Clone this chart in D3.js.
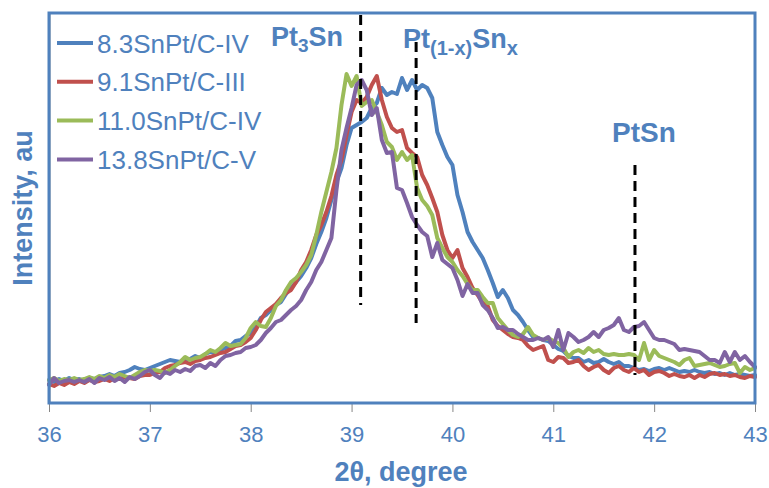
<!DOCTYPE html>
<html><head><meta charset="utf-8">
<script src="https://cdn.jsdelivr.net/npm/d3@7"></script>
<style>
html,body{margin:0;padding:0;background:#fff;}
svg{display:block;font-family:"Liberation Sans",Arial,sans-serif;}
</style></head>
<body><svg id="c" width="769" height="488"></svg>
<script>
// 2θ sampling: 36.00 to 43.00 in 0.05° steps
const twoThetaStart = 36, twoThetaStep = 0.05, nPoints = 141;
const seriesNames = ["8.3SnPt/C-IV","9.1SnPt/C-III","11.0SnPt/C-IV","13.8SnPt/C-V"];
const seriesColors = ["#4f81bd","#c0504d","#9bbb59","#8064a2"];
const blue = [23,21,24,22,25,23,24,22,25,24, 26,27,29,27,30,31,33,36,34,33, 35,37,39,41,43,42,41,43,44,47,
  45,49,51,50,53,55,57,62,63,67, 70,76,85,88,93,98,101,109,115,121, 127,135,145,159,171,185,203,221,235,258,
  275,278,281,285,295,300,315,308,311,309, 325,313,323,313,318,315,305,271,258,246, 238,208,191,171,161,153,145,133,120,106,
  113,105,93,88,81,73,66,65,63,62, 58,54,52,47,45,45,41,43,40,41, 44,41,39,41,37,37,35,33,34,32,
  34,35,33,35,33,31,32,31,33,31, 30,31,29,30,28,30,28,29,28,27,28];
const red = [19,17,20,18,21,19,22,20,23,21, 22,24,22,25,24,26,25,24,27,28, 28,30,31,35,37,38,40,41,39,42,
  43,45,46,48,50,51,54,57,58,61, 65,73,83,91,95,99,105,110,113,121, 133,141,153,168,178,191,207,228,243,268,
  291,303,300,306,318,327,303,286,275,271, 273,255,250,246,228,218,205,191,168,153, 145,153,135,126,115,108,100,97,83,77,
  73,69,66,65,63,57,53,55,57,43, 41,46,45,40,41,43,37,33,36,38, 33,30,35,37,33,31,35,31,33,28,
  31,32,30,27,29,27,26,28,25,28, 26,29,30,28,29,27,28,26,25,27,26];
const green = [23,25,22,24,23,25,23,24,26,24, 27,25,28,26,29,27,25,28,31,33, 32,33,32,30,33,37,41,46,43,45,
  46,49,53,51,55,60,57,58,59,65, 75,81,77,76,85,97,103,113,121,125, 131,138,148,168,191,211,231,255,298,329,
  317,327,297,301,303,291,278,261,256,243, 251,243,248,215,203,197,188,165,155,146, 141,133,127,119,113,113,106,100,100,85,
  79,73,68,66,69,76,68,65,63,65, 62,60,55,46,51,53,50,55,51,53, 49,48,49,48,48,49,48,43,60,43,
  53,47,45,43,41,38,43,45,37,38, 39,40,38,36,37,39,40,30,36,33,35];
const purple = [18,25,20,22,23,21,23,21,24,20, 25,23,26,22,25,21,26,24,27,31, 33,28,25,31,29,33,31,34,32,37,
  38,35,40,37,43,47,48,50,51,55, 56,58,63,70,75,81,83,88,93,97, 103,113,121,133,141,153,165,213,253,275,
  295,318,323,313,288,295,263,250,251,215, 213,200,186,178,171,167,146,160,143,139, 135,123,107,119,110,110,98,93,85,75,
  76,73,73,69,66,63,63,65,63,66, 56,73,53,70,66,61,63,66,71,66, 73,75,78,85,73,71,76,77,81,73,
  65,63,63,61,59,53,54,53,52,51, 47,43,43,40,51,41,51,43,47,41,36];
const xTicks = [36,37,38,39,40,41,42,43];
const xTickLabels = ["36","37","38","39","40","41","42","43"];
// reference phase positions (2θ) and dashed-line extents (intensity)
const phaseNames = ["Pt3Sn","Pt(1-x)Snx","PtSn"];
const phasePos = [39.09, 39.64, 41.81];
const phaseTop = [388, 361, 238];
const phaseBottom = [98, 80, 28];

const allSeries = [blue, red, green, purple];
const twoTheta = d3.range(nPoints).map(i => +(twoThetaStart + i*twoThetaStep).toFixed(2));

const svg = d3.select("#c");
const x = d3.scaleLinear().domain([36,43]).range([49,755]);
const y = d3.scaleLinear().domain([0,390]).range([403,13]);
const txtBlue = "#4f81bd";

// x axis ticks
const ax = svg.append("g").attr("transform","translate(0,403)")
  .call(d3.axisBottom(x).tickValues(xTicks).tickFormat((d,i)=>xTickLabels[i]).tickSize(9).tickPadding(14));
ax.select(".domain").remove();
ax.selectAll(".tick line").attr("stroke","#868686").attr("stroke-width",1);
ax.selectAll(".tick text").attr("fill",txtBlue).attr("font-size",22).attr("font-family","Liberation Sans, Arial, sans-serif");

// series
const line = d3.line().x((d,i)=>x(twoTheta[i])).y(d=>y(d)).curve(d3.curveLinear);
allSeries.forEach((s,k)=>{
  svg.append("path").datum(s).attr("d",line).attr("fill","none")
    .attr("stroke",seriesColors[k]).attr("stroke-width",4)
    .attr("stroke-linejoin","round").attr("stroke-linecap","round");
});

// dashed phase lines
phasePos.forEach((p,k)=>{
  svg.append("line").attr("x1",x(p)).attr("x2",x(p)).attr("y1",y(phaseTop[k])).attr("y2",y(phaseBottom[k]))
    .attr("stroke","#000").attr("stroke-width",3).attr("stroke-dasharray","10,6");
});

// frame
svg.append("line").attr("x1",50).attr("x2",50).attr("y1",13).attr("y2",403).attr("stroke","#868686").attr("stroke-width",1);
svg.append("rect").attr("x",49).attr("y",13).attr("width",706).attr("height",390)
  .attr("fill","none").attr("stroke",txtBlue).attr("stroke-width",3);

// phase labels
const lab = svg.append("g").attr("fill",txtBlue).attr("font-weight","bold").attr("font-size",27);
let t = lab.append("text").attr("x",271).attr("y",46);
t.append("tspan").text("Pt");
t.append("tspan").attr("font-size",19).attr("dy",6).text("3");
t.append("tspan").attr("dy",-6).text("Sn");
t = lab.append("text").attr("x",403).attr("y",48);
t.append("tspan").text("Pt");
t.append("tspan").attr("font-size",20).attr("dy",7).text("(1-x)");
t.append("tspan").attr("dy",-7).text("Sn");
t.append("tspan").attr("font-size",20).attr("dy",7).text("x");
lab.append("text").attr("x",612).attr("y",142).attr("font-size",28).text("PtSn");

// legend
const lg = svg.append("g");
seriesNames.forEach((n,k)=>{
  const yy = 43 + k*38.8;
  lg.append("line").attr("x1",57).attr("x2",93).attr("y1",yy).attr("y2",yy)
    .attr("stroke",seriesColors[k]).attr("stroke-width",4);
  lg.append("text").attr("x",97).attr("y",yy+9.5).attr("fill",txtBlue).attr("font-size",26).text(n);
});

// axis titles
svg.append("text").attr("x",401).attr("y",481).attr("text-anchor","middle").attr("fill",txtBlue)
  .attr("font-weight","bold").attr("font-size",27).text("2θ, degree");
svg.append("text").attr("transform","translate(32,208) rotate(-90)").attr("text-anchor","middle").attr("fill",txtBlue)
  .attr("font-weight","bold").attr("font-size",27).text("Intensity, au");
</script></body></html>
